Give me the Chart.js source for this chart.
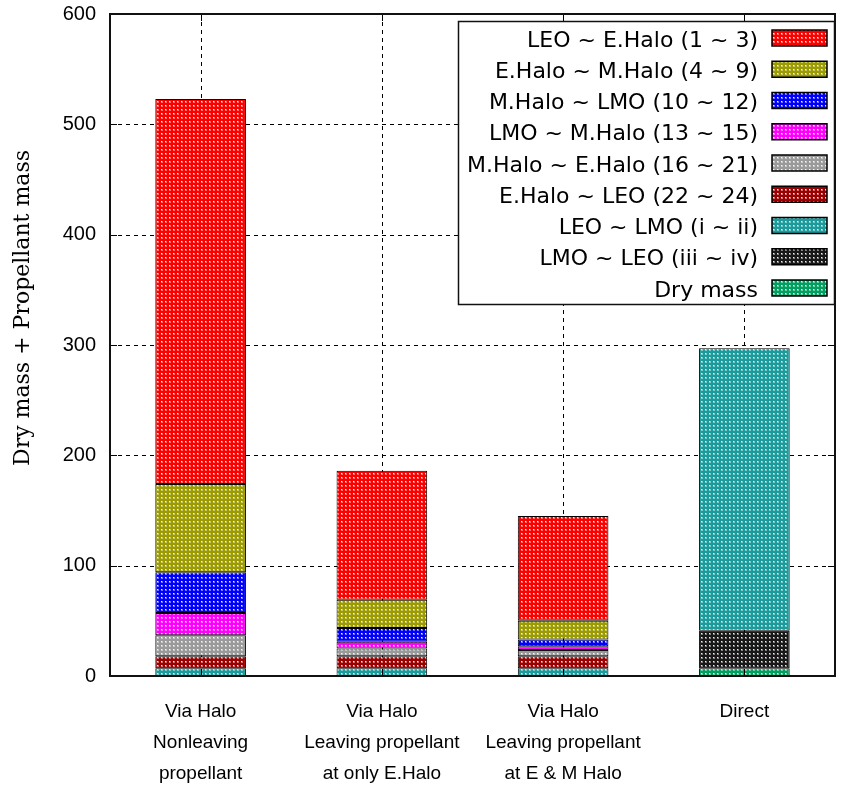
<!DOCTYPE html>
<html>
<head>
<meta charset="utf-8">
<script src="https://cdn.jsdelivr.net/npm/chart.js@4"></script>
<style>
  html, body { margin: 0; padding: 0; background: #ffffff; }
  #wrap { width: 842px; height: 787px; }
</style>
</head>
<body>
<div id="wrap"><canvas id="c" width="842" height="787"></canvas></div>
<script>
// Transfer options (x axis, multi-line labels)
const categories = [
  ['Via Halo', 'Nonleaving', 'propellant'],
  ['Via Halo', 'Leaving propellant', 'at only E.Halo'],
  ['Via Halo', 'Leaving propellant', 'at E & M Halo'],
  ['Direct']
];

// Mass per transfer leg, stacked bottom to top
const dryMass      = [7, 7, 7, 7];
const lmoToLeo     = [0, 0, 0, 34];
const leoToLmo     = [0, 0, 0, 256];
const eHaloToLeo   = [11, 11, 11, 0];
const mHaloToEHalo = [19, 7, 5.5, 0];
const lmoToMHalo   = [20, 6, 3.5, 0];
const mHaloToLmo   = [37, 12.5, 6, 0];
const eHaloToMHalo = [80, 25.5, 17, 0];
const leoToEHalo   = [349, 117, 95, 0];

// Y axis
const yTicks = [0, 100, 200, 300, 400, 500, 600];
const yTitle = 'Dry mass + Propellant mass';

const SANS = '"Liberation Sans", Arial, sans-serif';
const WIDE = '"DejaVu Sans", sans-serif';
const SERIF = '"DejaVu Serif", "Liberation Serif", serif';

// Dotted fill used for every bar segment
function dotted(color) {
  const t = document.createElement('canvas');
  t.width = 4; t.height = 4;
  const g = t.getContext('2d');
  g.fillStyle = color;
  g.fillRect(0, 0, 4, 4);
  g.fillStyle = 'rgba(255,255,255,0.45)';
  g.fillRect(1, 1, 2, 2);
  g.fillStyle = 'rgba(255,255,255,0.85)';
  g.fillRect(1, 1, 1, 1);
  return g.createPattern(t, 'repeat');
}

const C = {
  red: '#ff0000', olive: '#9c9c00', blue: '#0000ff', magenta: '#ff00ff',
  gray: '#9a9a9a', darkred: '#9c0000', teal: '#1a9c9c', black: '#181818',
  green: '#00a060'
};

function ds(label, data, color, legendColor) {
  const fill = Array.isArray(color) ? color.map(dotted) : dotted(color);
  return {
    label, data,
    backgroundColor: fill,
    borderColor: '#000000',
    borderWidth: 1,
    borderSkipped: false,
    legendFill: dotted(legendColor || color)
  };
}

const datasets = [
  ds('Dry mass', dryMass, [C.teal, C.teal, C.teal, C.green], C.green),
  ds('LMO ~ LEO (iii ~ iv)', lmoToLeo, C.black),
  ds('LEO ~ LMO (i ~ ii)', leoToLmo, C.teal),
  ds('E.Halo ~ LEO (22 ~ 24)', eHaloToLeo, C.darkred),
  ds('M.Halo ~ E.Halo (16 ~ 21)', mHaloToEHalo, C.gray),
  ds('LMO ~ M.Halo (13 ~ 15)', lmoToMHalo, C.magenta),
  ds('M.Halo ~ LMO (10 ~ 12)', mHaloToLmo, C.blue),
  ds('E.Halo ~ M.Halo (4 ~ 9)', eHaloToMHalo, C.olive),
  ds('LEO ~ E.Halo (1 ~ 3)', leoToEHalo, C.red)
];

// Dashed grid behind the bars, frame and inward ticks over them
const gridPlugin = {
  id: 'dashedGrid',
  beforeDatasetsDraw(chart) {
    const { ctx, chartArea: a, scales: { x, y } } = chart;
    ctx.save();
    ctx.strokeStyle = '#000000';
    ctx.lineWidth = 1;
    ctx.setLineDash([4, 4]);
    yTicks.forEach(v => {
      if (v === yTicks[0] || v === yTicks[yTicks.length - 1]) return;
      const py = Math.round(y.getPixelForValue(v)) + 0.5;
      ctx.beginPath(); ctx.moveTo(a.left, py); ctx.lineTo(a.right, py); ctx.stroke();
    });
    categories.forEach((_, i) => {
      const px = Math.round(x.getPixelForValue(i)) + 0.5;
      ctx.beginPath(); ctx.moveTo(px, a.top); ctx.lineTo(px, a.bottom); ctx.stroke();
    });
    ctx.restore();
  },
  afterDatasetsDraw(chart) {
    const { ctx, chartArea: a, scales: { x, y } } = chart;
    ctx.save();
    ctx.strokeStyle = '#000000';
    ctx.lineWidth = 1;
    const tl = 7;
    yTicks.forEach(v => {
      const py = Math.round(y.getPixelForValue(v)) + 0.5;
      ctx.beginPath();
      ctx.moveTo(a.left, py); ctx.lineTo(a.left + tl, py);
      ctx.moveTo(a.right, py); ctx.lineTo(a.right - tl, py);
      ctx.stroke();
    });
    categories.forEach((_, i) => {
      const px = Math.round(x.getPixelForValue(i)) + 0.5;
      ctx.beginPath();
      ctx.moveTo(px, a.bottom); ctx.lineTo(px, a.bottom - tl);
      ctx.moveTo(px, a.top); ctx.lineTo(px, a.top + tl);
      ctx.stroke();
    });
    ctx.lineWidth = 2;
    ctx.strokeStyle = '#111111';
    ctx.strokeRect(a.left, a.top, a.right - a.left, a.bottom - a.top);
    ctx.restore();
  }
};

// Boxed key in the upper right, listed top of stack first; rotated y title
const keyPlugin = {
  id: 'stackKey',
  afterDraw(chart) {
    const { ctx, chartArea: a } = chart;
    const items = chart.data.datasets.slice().reverse();
    const boxL = 458, boxT = 21, boxR = a.right, boxB = 305;
    ctx.save();
    ctx.fillStyle = '#ffffff';
    ctx.fillRect(boxL, boxT, boxR - boxL, boxB - boxT);
    ctx.strokeStyle = '#111111';
    ctx.lineWidth = 1.5;
    ctx.strokeRect(boxL + 0.5, boxT + 0.5, boxR - boxL - 1, boxB - boxT - 1);
    ctx.font = '22px ' + WIDE;
    ctx.textAlign = 'right';
    ctx.textBaseline = 'middle';
    items.forEach((d, i) => {
      const cy = 37 + i * 31.25;
      ctx.fillStyle = '#000000';
      ctx.fillText(d.label, 758, cy + 4);
      ctx.fillStyle = d.legendFill;
      ctx.fillRect(772, cy - 7, 55, 16);
      ctx.lineWidth = 1.5;
      ctx.strokeStyle = '#000000';
      ctx.strokeRect(772, cy - 7, 55, 16);
    });

    ctx.translate(23, 308);
    ctx.rotate(-Math.PI / 2);
    ctx.font = '22px ' + SERIF;
    ctx.textAlign = 'center';
    ctx.textBaseline = 'middle';
    ctx.fillStyle = '#000000';
    ctx.fillText(yTitle, 0, 0);
    ctx.restore();
  }
};

new Chart(document.getElementById('c'), {
  type: 'bar',
  data: { labels: categories, datasets },
  options: {
    responsive: false,
    animation: false,
    devicePixelRatio: 1,
    layout: { padding: { top: 14, right: 7, left: 0, bottom: 0 } },
    datasets: { bar: { categoryPercentage: 1, barPercentage: 0.5 } },
    plugins: { legend: { display: false }, tooltip: { enabled: false } },
    scales: {
      x: {
        stacked: true,
        grid: { display: false, drawTicks: false },
        border: { display: false },
        ticks: {
          color: '#000000',
          padding: 20,
          maxRotation: 0,
          autoSkip: false,
          font: { family: SANS, size: 19, lineHeight: 1.63 }
        },
        afterFit(s) { s.height = 111; s.paddingLeft = 0; s.paddingRight = 0; }
      },
      y: {
        stacked: true,
        min: 0, max: 600,
        grid: { display: false, drawTicks: false },
        border: { display: false },
        afterBuildTicks(s) { s.ticks = yTicks.map(v => ({ value: v })); },
        ticks: {
          color: '#000000',
          padding: 14,
          font: { family: SANS, size: 20 }
        },
        afterFit(s) { s.width = 110; s.paddingTop = 0; s.paddingBottom = 0; }
      }
    }
  },
  plugins: [gridPlugin, keyPlugin]
});
</script>
</body>
</html>
